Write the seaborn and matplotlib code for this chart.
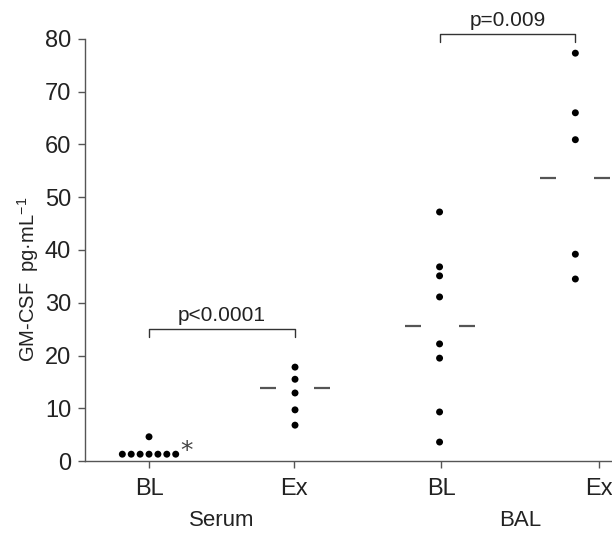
import numpy as np
import pandas as pd
import matplotlib
matplotlib.use('Agg')
import matplotlib.pyplot as plt
import seaborn as sns

# data (GM-CSF, pg/mL)
serum_bl = [1.3, 1.3, 1.3, 1.3, 1.3, 1.3, 1.3, 4.6]
serum_ex = [17.8, 15.5, 12.9, 9.7, 6.8]
bal_bl = [47.2, 36.8, 35.1, 31.1, 22.2, 19.5, 9.3, 3.6]
bal_ex = [77.3, 66.0, 60.9, 39.2, 34.5]
group_values = [serum_bl, serum_ex, bal_bl, bal_ex]

tick_labels = ['BL', 'Ex', 'BL', 'Ex']
group_labels = ['Serum', 'BAL']
dot_pos = [0.0, 1.0, 1.99, 2.92]
tick_pos = [0.0, 0.99, 2.0, 3.08]
center_lines = [None, 13.9, 25.6, 53.6]

comparisons = [(0, 1, 25.0, 'p<0.0001'), (2, 3, 80.9, 'p=0.009')]

rows = []
for pos, vals in zip(dot_pos, group_values):
    for v in vals:
        rows.append({'pos': pos, 'value': v})
df = pd.DataFrame(rows)

sns.set_style('ticks')
plt.rcParams['font.family'] = ['Liberation Sans', 'DejaVu Sans']
plt.rcParams['mathtext.fontset'] = 'custom'
plt.rcParams['mathtext.rm'] = 'Liberation Sans'

axis_grey = '#555555'
text_col = '#222222'

fig = plt.figure(figsize=(6.12, 5.33), dpi=100)
ax = fig.add_axes([0.139, 0.135, 0.861, 0.792])
ax.set_xlim(-0.438, 3.171)
ax.set_ylim(0, 80)

sns.swarmplot(data=df, x='pos', y='value', native_scale=True, orient='x',
              color='black', size=5, linewidth=1.1, edgecolor='none', ax=ax)

ax.set_xlim(-0.438, 3.171)
ax.set_ylim(0, 80)

# mean/median dashes either side of each column
for pos, m in zip(dot_pos, center_lines):
    if m is None:
        continue
    for side in (-1, 1):
        c = pos + side * 0.185
        ax.hlines(m, c - 0.055, c + 0.055, color=axis_grey, lw=1.6)

# significance brackets
for i, j, h, label in comparisons:
    x1, x2 = dot_pos[i], dot_pos[j]
    ax.plot([x1, x1, x2, x2], [h - 1.5, h, h, h - 1.5], color='#333333',
            lw=1.0, clip_on=False)
    ax.text((x1 + x2) / 2, h + 0.8, label, ha='center', va='bottom',
            fontsize=15, color=text_col, clip_on=False)

ax.annotate('*', xy=(dot_pos[0], serum_bl[0]), xytext=(27, 2),
            textcoords='offset points', ha='center', va='center',
            fontsize=18, color='#444444', family='DejaVu Sans')

ax.set_xticks(tick_pos)
ax.set_xticklabels(tick_labels)
ax.set_yticks(np.arange(0, 81, 10))
ax.tick_params(axis='both', colors=axis_grey, length=5, width=1.0,
               labelsize=17, labelcolor=text_col)
ax.tick_params(axis='x', pad=7)
ax.tick_params(axis='y', pad=5)

for k, name in enumerate(group_labels):
    xc = (tick_pos[2 * k] + tick_pos[2 * k + 1]) / 2
    ax.text(xc, -0.14, name, transform=ax.get_xaxis_transform(),
            ha='center', va='center', fontsize=16, color=text_col)

ax.set_xlabel('')
ax.set_ylabel('GM-CSF  pg·mL$^{\\mathregular{-1}}$', fontsize=14.5, color=text_col,
              va='center')
ax.yaxis.set_label_coords(-0.108, 0.43)

sns.despine(ax=ax)
for side in ('left', 'bottom'):
    ax.spines[side].set_color(axis_grey)
    ax.spines[side].set_linewidth(1.0)

fig.savefig('out.png', dpi=100)
